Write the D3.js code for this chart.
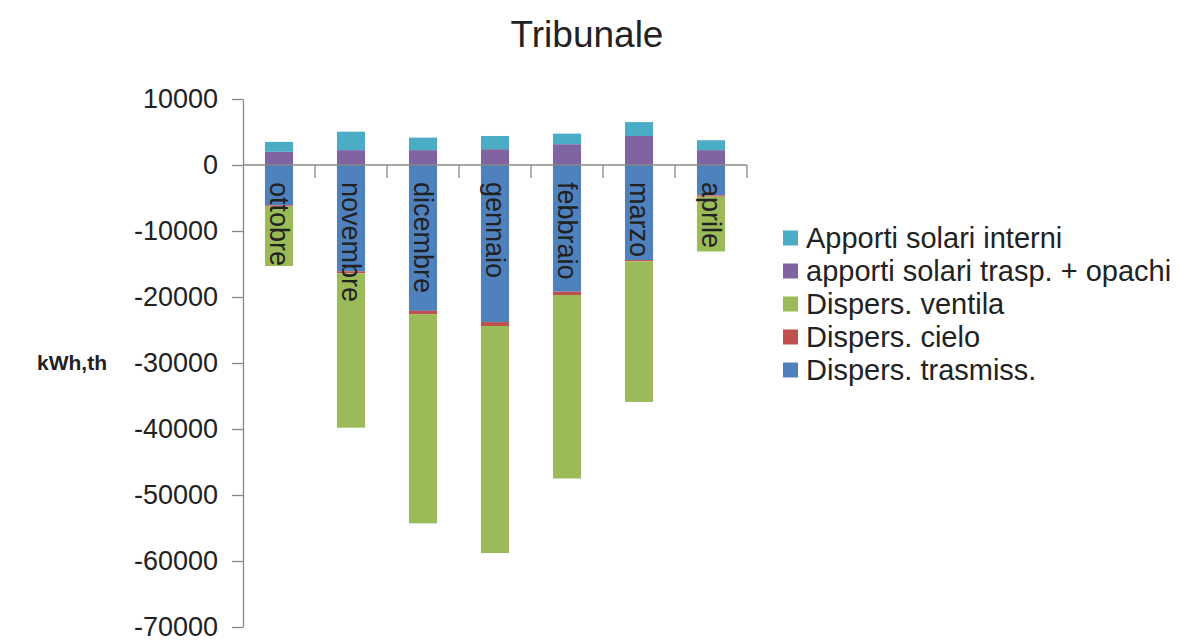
<!DOCTYPE html>
<html>
<head>
  <meta charset="utf-8">
  <title>Tribunale</title>
  <script src="https://d3js.org/d3.v7.min.js"></script>
  <style>
    body { margin: 0; background: #fff; }
    text { font-family: "Liberation Sans", Arial, sans-serif; fill: #222; }
  </style>
</head>
<body>
  <script>
    var width = 1182,
        height = 644;

    // data (kWh,th)
    var months = ["ottobre", "novembre", "dicembre", "gennaio", "febbraio", "marzo", "aprile"];
    var dispersTrasmiss = [-6100, -16100, -22100, -23800, -19200, -14400, -4600];
    var dispersCielo = [-200, -300, -500, -600, -500, -200, -200];
    var dispersVentila = [-9000, -23400, -31700, -34400, -27800, -21300, -8300];
    var apportiTrasp = [2000, 2250, 2250, 2400, 3150, 4400, 2250];
    var apportiInterni = [1500, 2800, 1900, 2000, 1600, 2100, 1500];
    var yTicks = [10000, 0, -10000, -20000, -30000, -40000, -50000, -60000, -70000];

    // stacking order (bottom of stack first), legend shows it reversed
    var keys = ["trasmiss", "cielo", "ventila", "trasp", "interni"];
    var names = {
      trasmiss: "Dispers. trasmiss.",
      cielo: "Dispers. cielo",
      ventila: "Dispers. ventila",
      trasp: "apporti solari trasp. + opachi",
      interni: "Apporti solari interni"
    };
    var colors = {
      trasmiss: "#4f81bd",
      cielo: "#c0504d",
      ventila: "#9bbb59",
      trasp: "#8064a2",
      interni: "#4bacc6"
    };

    var rows = months.map(function(m, i) {
      return {
        month: m,
        trasmiss: dispersTrasmiss[i],
        cielo: dispersCielo[i],
        ventila: dispersVentila[i],
        trasp: apportiTrasp[i],
        interni: apportiInterni[i]
      };
    });

    var svg = d3.select("body")
      .append("svg")
      .attr("width", width)
      .attr("height", height);

    var x = d3.scaleBand()
      .domain(months)
      .range([243, 747])
      .paddingInner(0.61)
      .paddingOuter(0.305);

    var y = d3.scaleLinear()
      .domain([-70000, 10000])
      .range([627, 99]);

    var series = d3.stack()
      .keys(keys)
      .offset(d3.stackOffsetDiverging)(rows);

    // bars
    svg.append("g")
      .selectAll("g")
      .data(series)
      .enter()
      .append("g")
      .attr("fill", function(d) { return colors[d.key]; })
      .selectAll("rect")
      .data(function(d) { return d; })
      .enter()
      .append("rect")
      .attr("x", function(d) { return x(d.data.month); })
      .attr("width", x.bandwidth())
      .attr("y", function(d) { return y(Math.max(d[0], d[1])); })
      .attr("height", function(d) { return Math.abs(y(d[0]) - y(d[1])); });

    // y axis
    var yAxis = svg.append("g")
      .attr("transform", "translate(243,0)")
      .call(d3.axisLeft(y)
        .tickValues(yTicks)
        .tickFormat(function(d) { return String(d); })
        .tickSize(11)
        .tickSizeOuter(0)
        .tickPadding(14));
    yAxis.select(".domain").attr("stroke", "#888").attr("stroke-width", 1.3);
    yAxis.selectAll(".tick line").attr("stroke", "#888").attr("stroke-width", 1.3);
    yAxis.selectAll(".tick text")
      .style("font-size", "27px")
      .attr("fill", "#222");

    // x axis along zero with ticks between categories
    var x0 = x.range()[0];
    var xAxis = svg.append("g");
    xAxis.append("line")
      .attr("x1", x0)
      .attr("x2", x.range()[1])
      .attr("y1", y(0))
      .attr("y2", y(0))
      .attr("stroke", "#888")
      .attr("stroke-width", 1.3);
    xAxis.selectAll("line.tk")
      .data(d3.range(1, months.length + 1))
      .enter()
      .append("line")
      .attr("class", "tk")
      .attr("x1", function(i) { return x0 + i * x.step(); })
      .attr("x2", function(i) { return x0 + i * x.step(); })
      .attr("y1", y(0))
      .attr("y2", y(0) + 13)
      .attr("stroke", "#888")
      .attr("stroke-width", 1.3);

    // category labels, vertical inside the bars
    svg.append("g")
      .selectAll("text")
      .data(months)
      .enter()
      .append("text")
      .attr("transform", function(m) {
        return "translate(" + (x(m) + x.bandwidth() / 2) + "," + (y(0) + 17) + ") rotate(90)";
      })
      .attr("dy", "0.35em")
      .style("font-size", "27px")
      .attr("fill", "#1e1e3c")
      .text(function(m) { return m; });

    // title
    svg.append("text")
      .attr("x", 587)
      .attr("y", 47)
      .attr("text-anchor", "middle")
      .style("font-size", "37px")
      .text("Tribunale");

    // y label
    svg.append("text")
      .attr("x", 107)
      .attr("y", y(-30000))
      .attr("dy", "0.35em")
      .attr("text-anchor", "end")
      .style("font-size", "21px")
      .style("font-weight", "bold")
      .text("kWh,th");

    // legend
    var legend = svg.append("g")
      .selectAll("g")
      .data(keys.slice().reverse())
      .enter()
      .append("g")
      .attr("transform", function(d, i) { return "translate(783," + (238 + i * 33) + ")"; });

    legend.append("rect")
      .attr("y", -7.5)
      .attr("width", 15)
      .attr("height", 15)
      .attr("fill", function(d) { return colors[d]; });

    legend.append("text")
      .attr("x", 23)
      .attr("dy", "0.35em")
      .style("font-size", "29px")
      .text(function(d) { return names[d]; });
  </script>
</body>
</html>
